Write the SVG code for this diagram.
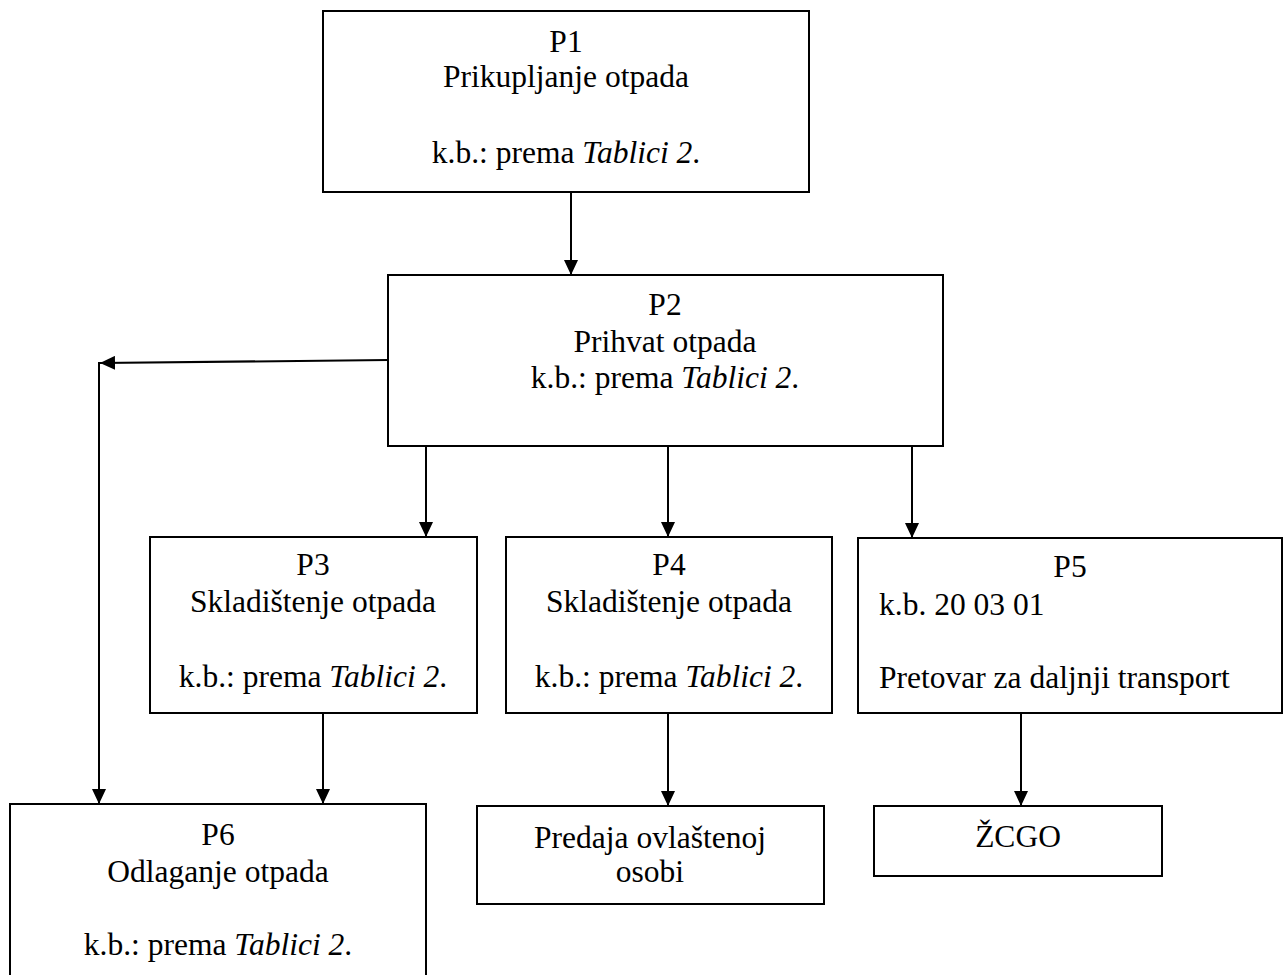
<svg xmlns="http://www.w3.org/2000/svg" width="1283" height="975" viewBox="0 0 1283 975">
<style>
.box{fill:#fff;stroke:#000;stroke-width:2}
.t{font-family:"Liberation Serif","Times New Roman",serif;font-size:31.5px;fill:#000}
.c{text-anchor:middle}
.i{font-style:italic}
.ln{fill:none;stroke:#000;stroke-width:2;marker-end:url(#ah)}
</style>
<defs>
<marker id="ah" markerUnits="userSpaceOnUse" markerWidth="15" markerHeight="14" viewBox="0 0 15 14" refX="15" refY="7" orient="auto">
<path d="M0,0 L15,7 L0,14 z" fill="#000"/>
</marker>
</defs>
<rect width="1283" height="975" fill="#fff"/>
<g id="connectors">
<line class="ln" x1="571" y1="192" x2="571" y2="275"/>
<line class="ln" x1="388" y1="360" x2="100" y2="363"/>
<line class="ln" x1="99" y1="362" x2="99" y2="804"/>
<line class="ln" x1="426" y1="446" x2="426" y2="537"/>
<line class="ln" x1="668" y1="446" x2="668" y2="537"/>
<line class="ln" x1="912" y1="446" x2="912" y2="538"/>
<line class="ln" x1="323" y1="713" x2="323" y2="804"/>
<line class="ln" x1="668" y1="713" x2="668" y2="806"/>
<line class="ln" x1="1021" y1="713" x2="1021" y2="806"/>
</g>
<g id="P1">
<rect class="box" x="323" y="11" width="486" height="181"/>
<text class="t c" x="566" y="52">P1</text>
<text class="t c" x="566" y="87">Prikupljanje otpada</text>
<text class="t c" x="566" y="163">k.b.: prema <tspan class="i">Tablici 2</tspan>.</text>
</g>
<g id="P2">
<rect class="box" x="388" y="275" width="555" height="171"/>
<text class="t c" x="665" y="315">P2</text>
<text class="t c" x="665" y="352">Prihvat otpada</text>
<text class="t c" x="665" y="388">k.b.: prema <tspan class="i">Tablici 2</tspan>.</text>
</g>
<g id="P3">
<rect class="box" x="150" y="537" width="327" height="176"/>
<text class="t c" x="313" y="575">P3</text>
<text class="t c" x="313" y="612">Skladištenje otpada</text>
<text class="t c" x="313" y="687">k.b.: prema <tspan class="i">Tablici 2</tspan>.</text>
</g>
<g id="P4">
<rect class="box" x="506" y="537" width="326" height="176"/>
<text class="t c" x="669" y="575">P4</text>
<text class="t c" x="669" y="612">Skladištenje otpada</text>
<text class="t c" x="669" y="687">k.b.: prema <tspan class="i">Tablici 2</tspan>.</text>
</g>
<g id="P5">
<rect class="box" x="858" y="538" width="424" height="175"/>
<text class="t c" x="1070" y="577">P5</text>
<text class="t" x="879" y="615">k.b. 20 03 01</text>
<text class="t" x="879" y="688">Pretovar za daljnji transport</text>
</g>
<g id="P6">
<rect class="box" x="10" y="804" width="416" height="200"/>
<text class="t c" x="218" y="845">P6</text>
<text class="t c" x="218" y="882">Odlaganje otpada</text>
<text class="t c" x="218" y="955">k.b.: prema <tspan class="i">Tablici 2</tspan>.</text>
</g>
<g id="predaja">
<rect class="box" x="477" y="806" width="347" height="98"/>
<text class="t c" x="650" y="848">Predaja ovlaštenoj</text>
<text class="t c" x="650" y="882">osobi</text>
</g>
<g id="zcgo">
<rect class="box" x="874" y="806" width="288" height="70"/>
<text class="t c" x="1018" y="847">ŽCGO</text>
</g>
</svg>
